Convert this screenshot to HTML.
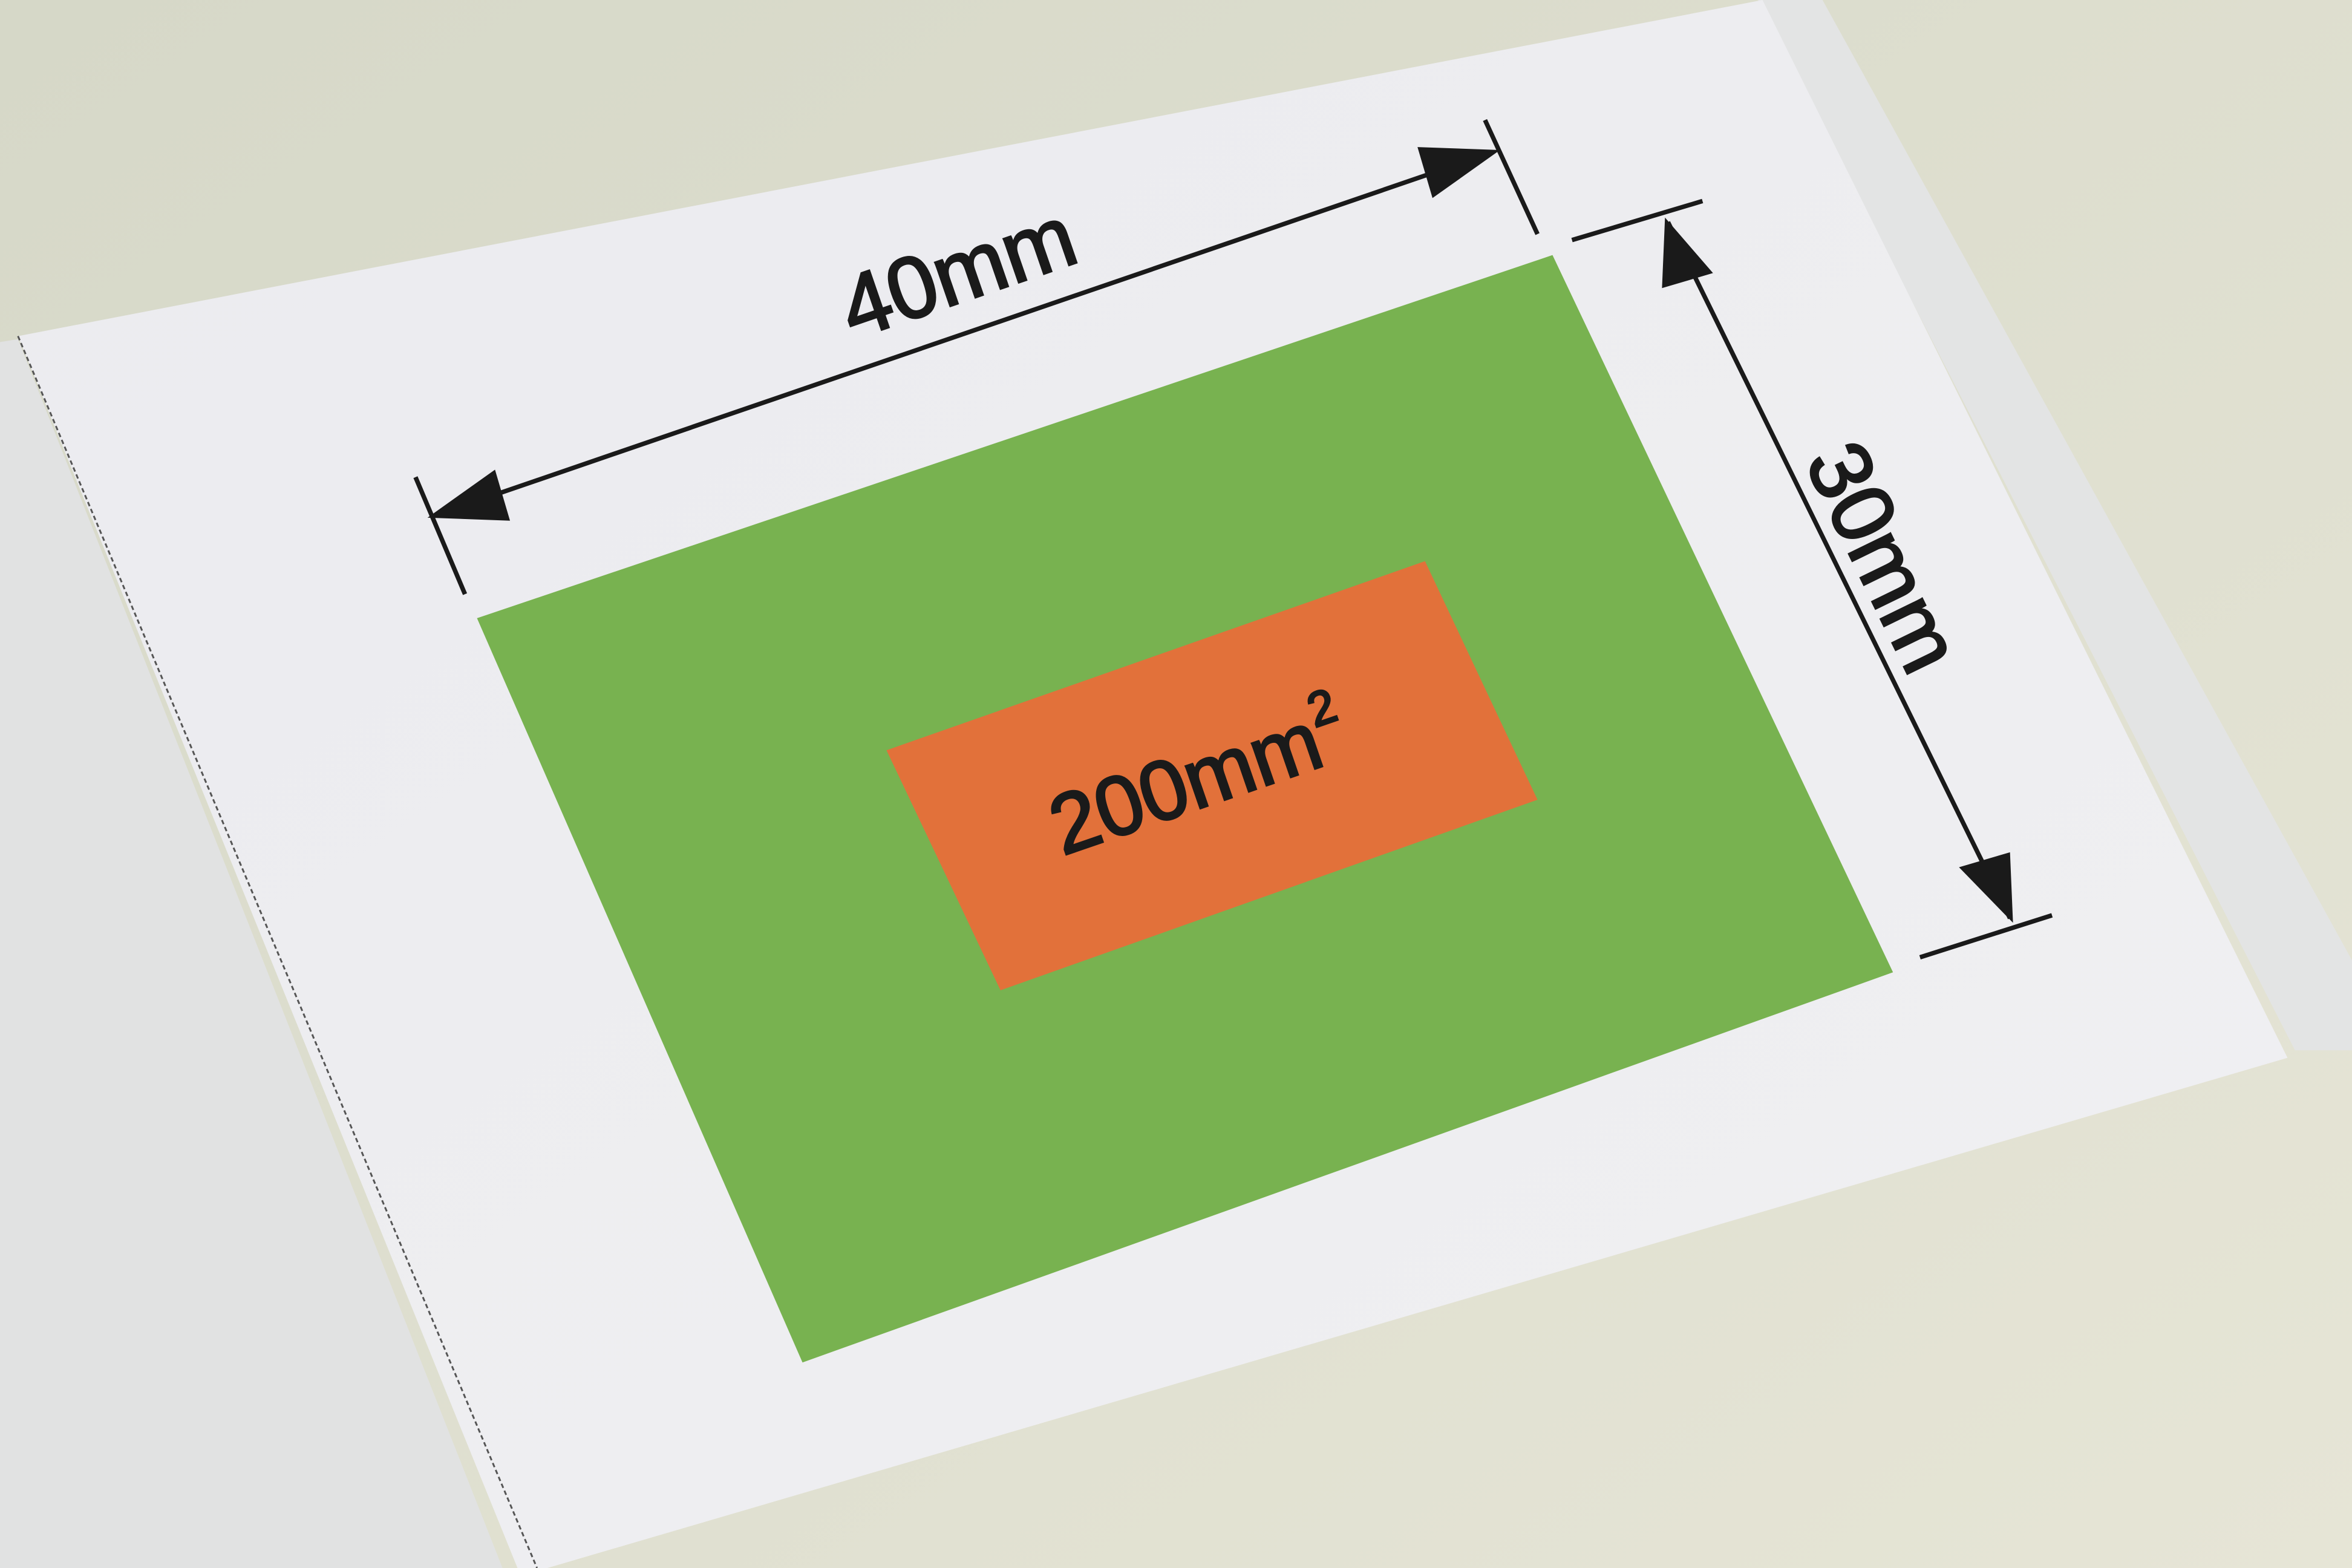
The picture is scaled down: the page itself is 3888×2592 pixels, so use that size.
<!DOCTYPE html>
<html><head><meta charset="utf-8"><style>html,body{margin:0;padding:0;background:#dcdccd}svg{display:block}</style></head>
<body>
<svg width="3888" height="2592" viewBox="0 0 1568 1045" preserveAspectRatio="none" xmlns="http://www.w3.org/2000/svg">
<defs>
<linearGradient id="bg" x1="0" y1="0" x2="1" y2="1"><stop offset="0" stop-color="#d6d8c8"/><stop offset="1" stop-color="#e6e5d6"/></linearGradient>
<linearGradient id="pp" x1="0" y1="0" x2="1" y2="1"><stop offset="0" stop-color="#ebebef"/><stop offset="1" stop-color="#f0f0f2"/></linearGradient>
</defs>
<rect x="0" y="0" width="1568" height="1045" fill="url(#bg)"/>
<polygon points="0,228 12,226 335,1045 0,1045" fill="#e1e2e2"/>
<polygon points="1172,0 1215,0 1568,640 1568,700 1530,700" fill="#e3e4e4"/>
<polygon points="12,224 1175,0 1525,705 365,1045 345,1045" fill="url(#pp)"/>
<line x1="12" y1="224" x2="358" y2="1045" stroke="#555" stroke-width="1.2" stroke-dasharray="3,2"/>
<polygon points="318,412 1035,170 1262,648 535,908" fill="#78b250"/>
<polygon points="591,500 950,374 1025,533 667,660" fill="#e2713a"/>
<text x="0" y="0" transform="translate(805,537) rotate(-19)" text-anchor="middle" font-family="Liberation Sans, sans-serif" font-size="56" fill="#1a1a1a" stroke="#1a1a1a" stroke-width="1.5">200mm<tspan font-size="32" dy="-26">2</tspan></text>
<g stroke="#1a1a1a" stroke-width="3">
<line x1="277" y1="318" x2="310" y2="396"/>
<line x1="990" y1="80" x2="1025" y2="156"/>
<line x1="300" y1="340" x2="985" y2="105"/>
</g>
<polygon points="285,345 330,313 340,347" fill="#1a1a1a"/>
<polygon points="1000,100 955,132 945,98" fill="#1a1a1a"/>
<text transform="translate(645,200) rotate(-19)" text-anchor="middle" font-family="Liberation Sans, sans-serif" font-size="58" fill="#1a1a1a" stroke="#1a1a1a" stroke-width="1.5">40mm</text>
<g stroke="#1a1a1a" stroke-width="3">
<line x1="1048" y1="160" x2="1135" y2="134"/>
<line x1="1280" y1="638" x2="1368" y2="610"/>
<line x1="1112" y1="148" x2="1340" y2="612"/>
</g>
<polygon points="1110,145 1142,182 1108,192" fill="#1a1a1a"/>
<polygon points="1342,615 1306,578 1340,568" fill="#1a1a1a"/>
<text transform="translate(1238,380) rotate(64)" text-anchor="middle" font-family="Liberation Sans, sans-serif" font-size="58" fill="#1a1a1a" stroke="#1a1a1a" stroke-width="1.5">30mm</text>
</svg>
</body></html>
